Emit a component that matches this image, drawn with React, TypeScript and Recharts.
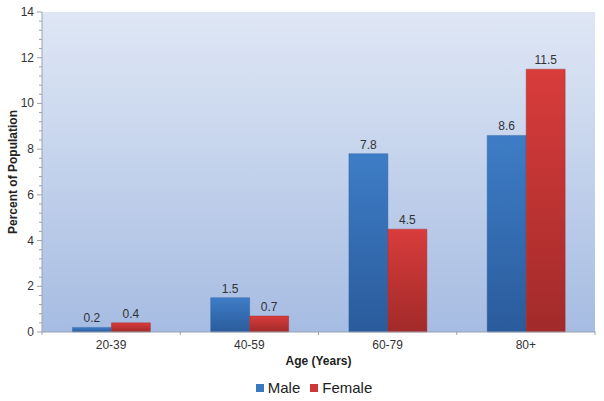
import { BarChart, Bar, XAxis, YAxis, CartesianGrid, Legend, LabelList } from "recharts";

const categories = ["20-39", "40-59", "60-79", "80+"];
const maleValues = [0.2, 1.5, 7.8, 8.6];
const femaleValues = [0.4, 0.7, 4.5, 11.5];
const majorTicks = [0, 2, 4, 6, 8, 10, 12, 14];
const seriesNames = ["Male", "Female"];
const seriesColors = ["#3a78c0", "#cf3636"];

// minor ticks every 0.4, majors every 2
const allTicks = Array.from({ length: 36 }, (_, i) => Math.round(i * 4) / 10);

const data = categories.map((name, i) => ({ name, male: maleValues[i], female: femaleValues[i] }));

const FONT = "'Liberation Sans', Arial, sans-serif";

function YTick(props: any) {
  const { x, y, payload } = props;
  const major = majorTicks.includes(payload.value);
  return (
    <g>
      <line x1={x - (major ? 5 : 3)} x2={x} y1={y} y2={y} stroke="#9aa3b0" strokeWidth={1} />
      {major && (
        <text x={x - 8} y={y} dy={4} textAnchor="end" fontSize={12} fill="#333" fontFamily={FONT}>
          {payload.value}
        </text>
      )}
    </g>
  );
}

// category label at the centre, small tick marks at the band edges
function XTick(props: any) {
  const { x, y, payload, index } = props;
  const half = payload.offset ?? 0;
  return (
    <g>
      {index === 0 && <line x1={x - half} x2={x - half} y1={y - 1} y2={y + 3} stroke="#9aa3b0" />}
      <line x1={x + half} x2={x + half} y1={y - 1} y2={y + 3} stroke="#9aa3b0" />
      <text x={x} y={y} dy={17} textAnchor="middle" fontSize={12} fill="#333" fontFamily={FONT}>
        {payload.value}
      </text>
    </g>
  );
}

function LegendContent() {
  return (
    <div style={{ display: "flex", justifyContent: "center", paddingLeft: 34, fontSize: 15, fontFamily: FONT, color: "#222" }}>
      {seriesNames.map((n, i) => (
        <span key={n} style={{ display: "inline-flex", alignItems: "center", marginRight: 10 }}>
          <span style={{ display: "inline-block", width: 8, height: 8, background: seriesColors[i], marginRight: 4 }} />
          {n}
        </span>
      ))}
    </div>
  );
}

export default function App() {
  return (
    <div style={{ position: "absolute", left: 0, top: 0, width: 604, height: 401, background: "#fff", fontFamily: FONT }}>
      <BarChart
        width={604}
        height={401}
        data={data}
        margin={{ top: 12, right: 9, left: 0, bottom: 10 }}
        barCategoryGap="22%"
        barGap={0}
      >
        <defs>
          <linearGradient id="bg" x1="0" y1="0" x2="0" y2="1">
            <stop offset="0%" stopColor="#dfe7f5" />
            <stop offset="100%" stopColor="#a6bce2" />
          </linearGradient>
          <linearGradient id="blue" x1="0" y1="0" x2="0" y2="1">
            <stop offset="0%" stopColor="#3e7dc6" />
            <stop offset="100%" stopColor="#2a5b9c" />
          </linearGradient>
          <linearGradient id="red" x1="0" y1="0" x2="0" y2="1">
            <stop offset="0%" stopColor="#d83c3b" />
            <stop offset="100%" stopColor="#a22a2a" />
          </linearGradient>
        </defs>
        <CartesianGrid fill="url(#bg)" fillOpacity={1} horizontal={false} vertical={false} />
        <XAxis
          xAxisId="top"
          orientation="top"
          dataKey="name"
          height={0}
          tick={false}
          tickLine={false}
          axisLine={{ stroke: "#b8c0cc" }}
        />
        <XAxis
          dataKey="name"
          height={42}
          tickLine={false}
          tickSize={0}
          tickMargin={0}
          axisLine={{ stroke: "#9aa3b0" }}
          tick={<XTick />}
          label={{
            value: "Age (Years)",
            position: "insideBottom",
            offset: 9,
            style: { fontSize: 12, fontWeight: "bold", fill: "#222", fontFamily: FONT },
          }}
        />
        <YAxis
          width={42}
          domain={[0, 14]}
          ticks={allTicks}
          interval={0}
          tickSize={0}
          tickMargin={0}
          tickLine={false}
          axisLine={{ stroke: "#9aa3b0" }}
          tick={<YTick />}
          label={{
            value: "Percent of Population",
            angle: -90,
            position: "insideLeft",
            dx: 8,
            style: { textAnchor: "middle", fontSize: 12, fontWeight: "bold", fill: "#222", fontFamily: FONT },
          }}
        />
        <YAxis yAxisId="right" orientation="right" width={0} domain={[0, 14]} tick={false} tickLine={false} axisLine={{ stroke: "#b8c0cc" }} />
        <Legend verticalAlign="bottom" wrapperStyle={{ left: 0, width: 604, top: 379 }} content={<LegendContent />} />
        <Bar dataKey="male" name="Male" fill="url(#blue)" stroke="#2c5f9e" strokeOpacity={0.4} isAnimationActive={false}>
          <LabelList dataKey="male" position="top" offset={5} style={{ fontSize: 12, fill: "#333", fontFamily: FONT }} />
        </Bar>
        <Bar dataKey="female" name="Female" fill="url(#red)" stroke="#a52b2b" strokeOpacity={0.4} isAnimationActive={false}>
          <LabelList dataKey="female" position="top" offset={5} style={{ fontSize: 12, fill: "#333", fontFamily: FONT }} />
        </Bar>
      </BarChart>
    </div>
  );
}
